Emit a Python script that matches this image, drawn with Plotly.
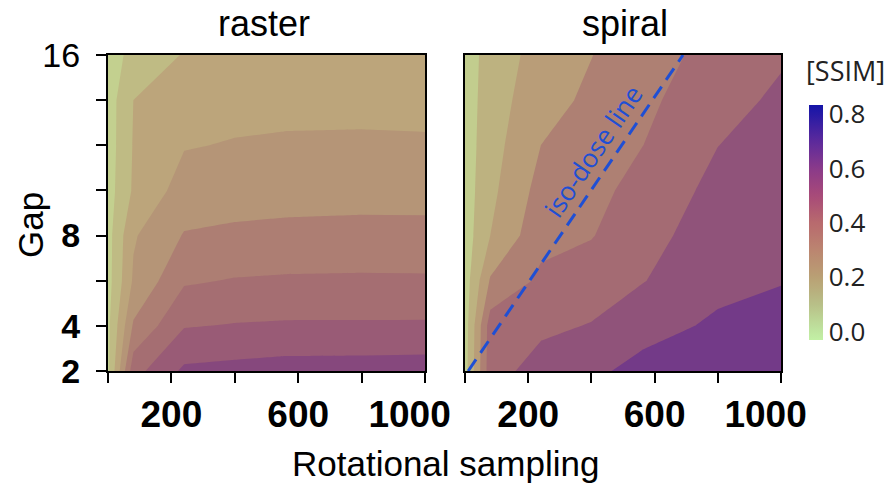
import plotly.graph_objects as go

# Grid of the sweep
rot_sampling = [0, 80, 240, 400, 560, 800, 1000]
gap = [2, 4, 6, 8, 10, 12, 14, 16]

# SSIM values, one row per gap (2 -> 16), one column per rotational sampling
ssim_raster = [
    [0.060, 0.450, 0.575, 0.585, 0.595, 0.597, 0.600],
    [0.060, 0.330, 0.475, 0.485, 0.490, 0.490, 0.491],
    [0.050, 0.250, 0.390, 0.405, 0.410, 0.412, 0.411],
    [0.050, 0.232, 0.325, 0.335, 0.340, 0.343, 0.343],
    [0.045, 0.170, 0.275, 0.285, 0.290, 0.293, 0.292],
    [0.040, 0.165, 0.235, 0.245, 0.250, 0.252, 0.250],
    [0.040, 0.160, 0.205, 0.215, 0.218, 0.218, 0.216],
    [0.040, 0.105, 0.165, 0.190, 0.200, 0.200, 0.200],
]
ssim_spiral = [
    [0.060, 0.460, 0.540, 0.580, 0.630, 0.660, 0.680],
    [0.050, 0.450, 0.480, 0.505, 0.565, 0.615, 0.640],
    [0.050, 0.310, 0.420, 0.450, 0.495, 0.575, 0.595],
    [0.050, 0.200, 0.370, 0.395, 0.465, 0.550, 0.575],
    [0.050, 0.175, 0.335, 0.365, 0.440, 0.525, 0.555],
    [0.050, 0.160, 0.300, 0.340, 0.398, 0.499, 0.535],
    [0.050, 0.150, 0.265, 0.318, 0.375, 0.470, 0.515],
    [0.050, 0.140, 0.240, 0.298, 0.354, 0.436, 0.490],
]

# Iso-dose reference line on the spiral panel
iso_x = [10, 690]
iso_y = [2, 16]

cbar_ticks = [0.0, 0.2, 0.4, 0.6, 0.8]

# Fill colours of the contour bands, by SSIM value
fill_stops = [
    (0.00, "#c6dc96"), (0.04, "#c3d08f"), (0.12, "#bfbb84"), (0.15, "#bdb27f"),
    (0.20, "#bca47b"), (0.25, "#b99d78"), (0.28, "#b59577"), (0.35, "#ae8073"),
    (0.44, "#a56e72"), (0.52, "#995b76"), (0.55, "#8f527a"), (0.60, "#86487d"),
    (0.65, "#733a88"), (0.80, "#3a2a9a"),
]
# Colour bar gradient, by SSIM value
bar_stops = [
    (-0.03, "#c2f0a4"), (0.0, "#bfe6a0"), (0.1, "#b8c088"), (0.2, "#b9a074"),
    (0.3, "#bb8570"), (0.4, "#b86a6e"), (0.5, "#a84a78"), (0.6, "#8a3a8a"),
    (0.7, "#5c2a9c"), (0.833, "#1414a8"),
]
CB_MIN, CB_MAX = -0.03, 0.833


def hex_rgb(h):
    h = h.lstrip("#")
    return tuple(int(h[i:i + 2], 16) for i in (0, 2, 4))


def color_at(stops, v):
    if v <= stops[0][0]:
        return stops[0][1]
    for (v0, c0), (v1, c1) in zip(stops, stops[1:]):
        if v <= v1:
            t = (v - v0) / (v1 - v0)
            a, b = hex_rgb(c0), hex_rgb(c1)
            return "rgb(%d,%d,%d)" % tuple(round(a[k] + t * (b[k] - a[k])) for k in range(3))
    return stops[-1][1]


def scale_over(stops, lo, hi, n=40):
    return [[i / n, color_at(stops, lo + (hi - lo) * i / n)] for i in range(n + 1)]


def contour(z, start, end, size, xa, ya):
    # filled contours span [start - size/2, end + size/2] of the colour scale
    return go.Contour(
        x=rot_sampling, y=gap, z=z,
        colorscale=scale_over(fill_stops, start - size / 2, end + size / 2),
        autocontour=False,
        contours=dict(start=start, end=end, size=size, coloring="fill", showlines=False),
        line=dict(width=0, smoothing=0), showscale=False, hoverinfo="skip",
        xaxis=xa, yaxis=ya,
    )


fig = go.Figure()
fig.add_trace(contour(ssim_raster, 0.08, 0.56, 0.08, "x", "y"))
fig.add_trace(contour(ssim_spiral, 0.10, 0.60, 0.10, "x2", "y2"))

fig.add_trace(go.Scatter(
    x=iso_x, y=iso_y, mode="lines", xaxis="x2", yaxis="y2",
    line=dict(color="#1f4fd4", width=3, dash="14px,8px"),
    showlegend=False, hoverinfo="skip",
))

# colour bar
fig.add_trace(go.Scatter(
    x=[None], y=[None], mode="markers", showlegend=False, hoverinfo="skip",
    marker=dict(
        color=[0], colorscale=scale_over(bar_stops, CB_MIN, CB_MAX),
        cmin=CB_MIN, cmax=CB_MAX, showscale=True,
        colorbar=dict(
            thickness=14, thicknessmode="pixels", len=235, lenmode="pixels",
            x=809 / 890, xanchor="left", y=1 - 222.5 / 487, yanchor="middle",
            xpad=0, ypad=0,
            tickvals=cbar_ticks, ticktext=["%.1f" % v for v in cbar_ticks],
            ticks="", outlinewidth=0,
            tickfont=dict(family="Open Sans", size=26, color="#222"),
        ),
    ),
))

H = 487
W = 890
ydom = [1 - 371 / H, 1 - 55 / H]
x_ticks = [0, 200, 400, 600, 800, 1000]
x_text = ["", "200", "", "600", "", "1000\u00a0\u00a0\u00a0"]

axis_common = dict(
    range=[0, 1000], showline=True, mirror=True, linecolor="black", linewidth=2,
    showgrid=False, zeroline=False, ticks="outside", ticklen=10, tickwidth=2,
    tickcolor="black", tickvals=x_ticks, ticktext=x_text, automargin=False,
    tickfont=dict(family="Liberation Sans", size=37, color="black", weight="bold"),
)

fig.update_layout(
    width=W, height=H, margin=dict(l=0, r=0, t=0, b=0, autoexpand=False),
    paper_bgcolor="white", plot_bgcolor="white", showlegend=False,
    xaxis=dict(domain=[108 / W, 425 / W], anchor="y", **axis_common),
    xaxis2=dict(domain=[465 / W, 781 / W], anchor="y2", **axis_common),
    yaxis=dict(
        domain=ydom, anchor="x", range=[2, 16], showline=True, mirror=True,
        linecolor="black", linewidth=2, showgrid=False, zeroline=False,
        ticks="outside", ticklen=10, tickwidth=2, tickcolor="black", automargin=False,
        ticklabelstandoff=9,
        tickvals=gap, ticktext=["<b>2</b>", "<b>4</b>", "", "<b>8</b>", "", "", "", "16"],
        tickfont=dict(family="Liberation Sans", size=34, color="black"),
    ),
    yaxis2=dict(
        domain=ydom, anchor="x2", range=[2, 16], showline=True, mirror=True,
        linecolor="black", linewidth=2, showgrid=False, zeroline=False,
        ticks="", showticklabels=False, automargin=False,
    ),
)


def label(text, px, py, size, family="Liberation Sans", color="black", angle=0):
    fig.add_annotation(text=text, x=px / W, y=1 - py / H, xref="paper", yref="paper",
                       xanchor="center", yanchor="middle", showarrow=False,
                       textangle=angle, font=dict(family=family, size=size, color=color))


label("raster", 264, 24, 36)
label("spiral", 625, 24, 36)
label("Gap", 30, 225, 35, angle=-90)
label("Rotational sampling", 445, 463, 35)
label("[SSIM]", 845, 70, 27, family="Open Sans", color="#222")

fig.add_annotation(text="iso-dose line", x=405, y=11.75, xref="x2", yref="y2",
                   xanchor="center", yanchor="middle", showarrow=False, textangle=-56,
                   font=dict(family="Open Sans", size=26, color="#1f4fd4"))

fig.write_html("out.html")
